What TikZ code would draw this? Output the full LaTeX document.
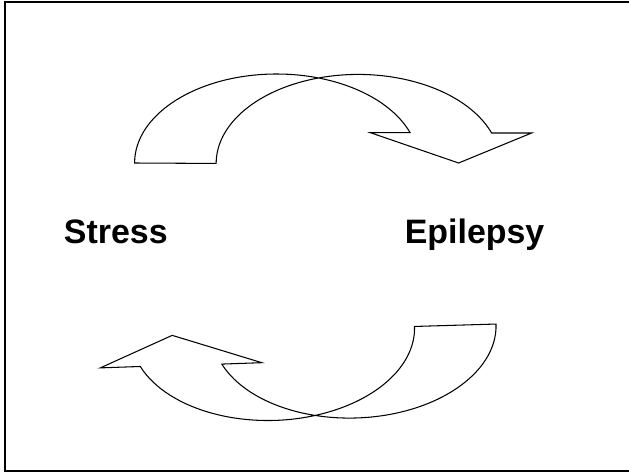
\documentclass[tikz,border=0pt]{standalone}
\usepackage{fontspec}
\setmainfont{Liberation Sans}
\usetikzlibrary{positioning}

\begin{document}
\begin{tikzpicture}[x=0.02cm,y=0.02cm,
    word/.style={font=\bfseries\fontsize{19.3}{23}\selectfont, anchor=base west, inner sep=0pt}]
\newcommand{\RxOfArc}{142};
\newcommand{\RyOfArc}{89};
\newcommand{\HeadOver}{40};
\useasboundingbox (0,0) rectangle (629,471);
\clip (0,0) rectangle (629,471);
\draw[line width=1.2pt] (5.3,-0.3) rectangle (700,469.3);

% the two curved arrows, second one turned round
\foreach \cx/\cy/\rot in 
{276.6/308/0, 354.1/142/182}
{
    \draw[line width=0.6pt, shift={(\cx,\cy)}, rotate=\rot] (-\RxOfArc,0)
        arc[start angle=180, end angle=20, x radius=\RxOfArc, y radius=\RyOfArc]
        -- ++(-\HeadOver,0) -- (182,0) -- (255,30) -- ++(-\HeadOver,0)
        arc[start angle=20, end angle=180, x radius=\RxOfArc, y radius=\RyOfArc]
        -- cycle;
}

\node[word] (stress) at (63.6,228) {Stress};
\node[word] (epilepsy) at (404.5,228) {Epilepsy};
\end{tikzpicture}
\end{document}
